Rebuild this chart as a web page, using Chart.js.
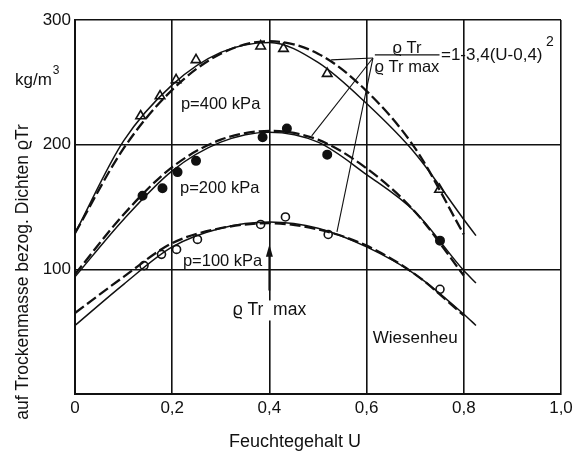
<!DOCTYPE html>
<html>
<head>
<meta charset="utf-8">
<script src="https://cdn.jsdelivr.net/npm/chart.js@4.4.0/dist/chart.umd.min.js"></script>
<style>
  html, body { margin: 0; padding: 0; background: #fff; }
  #wrap { width: 579px; height: 453px; }
</style>
</head>
<body>
<div id="wrap"><canvas id="chart"></canvas></div>
<script>
const U_DASH = [0, 0.1, 0.2, 0.3, 0.4, 0.5, 0.6, 0.7, 0.8];
const U_SOLID = [0, 0.1, 0.2, 0.3, 0.4, 0.5, 0.6, 0.7, 0.8, 0.825];

// dashed = normalised curve, solid = fitted curve (kg/m3)
const dash400 = [129, 197, 244, 273, 283, 273, 243, 197, 128];
const solid400 = [129, 203, 248, 274, 282, 266, 233, 193, 140, 127];
const dash200 = [96, 144, 182, 204, 211, 204, 181, 146, 95];
const solid200 = [94, 140, 179, 202, 210, 202, 176, 146, 99, 89];
const dash100 = [65, 94, 121, 133, 137, 132, 119, 96, 63];
const solid100 = [55, 88, 118, 133, 138, 133, 118, 96, 64, 55];

// measured points
const u400 = [0.135, 0.175, 0.208, 0.249, 0.382, 0.429, 0.519, 0.75];
const p400 = [223, 239, 252, 268, 279, 277, 257, 164];
const u200 = [0.139, 0.180, 0.211, 0.249, 0.386, 0.436, 0.519, 0.751];
const p200 = [159, 165, 178, 187, 206, 213, 192, 123];
const u100 = [0.142, 0.178, 0.209, 0.252, 0.382, 0.433, 0.521, 0.751];
const p100 = [103, 112, 116, 124, 136, 142, 128, 84];

const X_TICKS = [0, 0.2, 0.4, 0.6, 0.8, 1.0];
const Y_TICKS = [100, 200, 300];

const FONT = '"Liberation Sans", Arial, sans-serif';
const INK = '#111';

function pts(xs, ys) {
    return xs.map((x, i) => ({ x: x, y: ys[i] }));
}

function curve(xs, ys, dashed) {
    return {
        data: pts(xs, ys),
        borderColor: INK,
        borderWidth: dashed ? 2.3 : 1.5,
        borderDash: dashed ? [11, 4] : [],
        pointRadius: 0,
        cubicInterpolationMode: 'monotone',
        fill: false
    };
}

function marks(xs, ys, style, filled, r) {
    return {
        data: pts(xs, ys),
        showLine: false,
        pointStyle: style,
        pointRadius: r,
        pointBorderWidth: 1.6,
        pointBorderColor: INK,
        pointBackgroundColor: filled ? INK : '#fff'
    };
}

// texts, arrow and leader lines, placed in data units
const annotations = {
    id: 'annotations',
    afterDatasetsDraw(chart) {
        const { ctx, scales: { x, y }, chartArea } = chart;
        const X = v => x.getPixelForValue(v);
        const Y = v => y.getPixelForValue(v);
        ctx.save();
        ctx.fillStyle = INK;
        ctx.strokeStyle = INK;
        ctx.textBaseline = 'middle';

        ctx.font = '16.5px ' + FONT;
        ctx.textAlign = 'left';
        ctx.fillText('p=400 kPa', X(0.218), Y(232));
        ctx.fillText('p=200 kPa', X(0.216), Y(165));
        ctx.fillText('p=100 kPa', X(0.222), Y(106));
        ctx.font = '17px ' + FONT;
        ctx.fillText('Wiesenheu', X(0.6125), Y(45));

        // rho max arrow
        ctx.lineWidth = 2;
        ctx.beginPath();
        ctx.moveTo(X(0.4), Y(83));
        ctx.lineTo(X(0.4), Y(113));
        ctx.stroke();
        ctx.beginPath();
        ctx.moveTo(X(0.4), Y(120));
        ctx.lineTo(X(0.4) - 3.5, Y(110));
        ctx.lineTo(X(0.4) + 3.5, Y(110));
        ctx.closePath();
        ctx.fill();

        ctx.font = '17.5px ' + FONT;
        const lbl = 'ϱ Tr  max';
        const w = ctx.measureText(lbl).width;
        ctx.fillStyle = '#fff';
        ctx.fillRect(X(0.4) - w / 2 - 2, Y(67) - 10, w + 4, 20);
        ctx.fillStyle = INK;
        ctx.textAlign = 'center';
        ctx.fillText(lbl, X(0.4), Y(67));

        // formula
        ctx.font = '16.5px ' + FONT;
        ctx.fillText('ϱ Tr', X(0.683), Y(277.5));
        ctx.fillText('ϱ Tr max', X(0.683), Y(262));
        ctx.lineWidth = 1.3;
        ctx.beginPath();
        ctx.moveTo(X(0.617), Y(272));
        ctx.lineTo(X(0.75), Y(272));
        ctx.stroke();
        ctx.font = '17px ' + FONT;
        ctx.textAlign = 'left';
        ctx.fillText('=1-3,4(U-0,4)', X(0.753), Y(271.5));
        ctx.font = '14px ' + FONT;
        ctx.fillText('2', X(0.969), Y(282));

        // leader lines
        ctx.lineWidth = 1.1;
        [[0.527, 268], [0.487, 207], [0.539, 130]].forEach(t => {
            ctx.beginPath();
            ctx.moveTo(X(0.613), Y(269.5));
            ctx.lineTo(X(t[0]), Y(t[1]));
            ctx.stroke();
        });

        // unit and axis titles
        ctx.font = '17px ' + FONT;
        const ux = chartArea.left - 60;
        ctx.fillText('kg/m', ux, chartArea.top + 60);
        const uw = ctx.measureText('kg/m').width;
        ctx.font = '12px ' + FONT;
        ctx.fillText('3', ux + uw + 1, chartArea.top + 51);

        ctx.font = '18px ' + FONT;
        ctx.textAlign = 'center';
        ctx.fillText('Feuchtegehalt U', 295, chartArea.bottom + 48);

        ctx.font = '17.5px ' + FONT;
        ctx.translate(23, 272);
        ctx.rotate(-Math.PI / 2);
        ctx.fillText('auf Trockenmasse bezog. Dichten ϱTr', 0, 0);
        ctx.restore();
    }
};

new Chart(document.getElementById('chart'), {
    type: 'line',
    data: {
        datasets: [
            curve(U_DASH, dash400, true),
            curve(U_SOLID, solid400, false),
            curve(U_DASH, dash200, true),
            curve(U_SOLID, solid200, false),
            curve(U_DASH, dash100, true),
            curve(U_SOLID, solid100, false),
            marks(u400, p400, 'triangle', false, 5.5),
            marks(u200, p200, 'circle', true, 4.2),
            marks(u100, p100, 'circle', false, 4)
        ]
    },
    plugins: [annotations],
    options: {
        responsive: true,
        maintainAspectRatio: false,
        animation: false,
        layout: { padding: { top: 20, right: 18, left: 0, bottom: 0 } },
        plugins: {
            legend: { display: false },
            tooltip: { enabled: false }
        },
        scales: {
            x: {
                type: 'linear',
                min: 0,
                max: 1,
                afterFit: s => { s.height = 59; },
                afterBuildTicks: s => { s.ticks = X_TICKS.map(v => ({ value: v })); },
                grid: { color: INK, lineWidth: 1.6, drawTicks: false },
                border: { color: INK, width: 2 },
                ticks: {
                    color: INK,
                    padding: 4,
                    font: { family: FONT, size: 17 },
                    callback: v => v === 0 ? '0' : v.toFixed(1).replace('.', ',')
                }
            },
            y: {
                min: 0,
                max: 300,
                afterFit: s => { s.width = 75; },
                afterBuildTicks: s => { s.ticks = [0].concat(Y_TICKS).map(v => ({ value: v })); },
                grid: { color: INK, lineWidth: 1.6, drawTicks: false },
                border: { color: INK, width: 2 },
                ticks: {
                    color: INK,
                    padding: 4,
                    font: { family: FONT, size: 17 },
                    callback: v => v === 0 ? '' : String(v)
                }
            }
        }
    }
});
</script>
</body>
</html>
